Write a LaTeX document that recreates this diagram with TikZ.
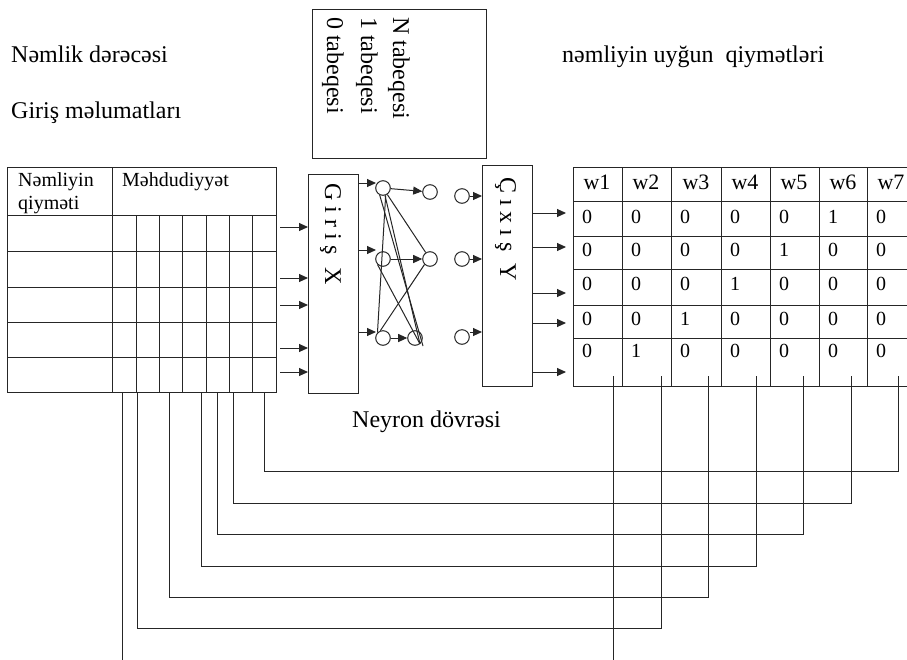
\documentclass[tikz,border=0pt]{standalone}
\usepackage{fontspec}
\setmainfont{Liberation Serif}
\usetikzlibrary{arrows.meta}
\begin{document}
\begin{tikzpicture}[x=1pt,y=-1pt,
  ln/.style={line width=1pt, draw=black!85},
  arr/.style={ln,-{Triangle[length=9pt,width=8pt]}},
  box/.style={ln, rectangle, inner sep=0},
  neuron/.style={ln, circle, minimum size=14.6pt, inner sep=0},
  big/.style={font=\fontsize{24}{28}\selectfont, inner sep=0},
  mid/.style={font=\fontsize{20}{23}\selectfont, inner sep=0},
  hd/.style={font=\fontsize{22}{26}\selectfont, inner sep=0},
  ]
\useasboundingbox (0,0) rectangle (907,659);
\fill[white] (0,0) rectangle (907,659);

% headings
\node[big, anchor=base west] (t1) at (11,62) {Nəmlik dərəcəsi};
\node[big, anchor=base west] (t2) at (11,118) {Giriş məlumatları};
\node[big, anchor=base west] (t3) at (562,62) {nəmliyin uyğun\ \ qiymətləri};
\node[big, anchor=base west] (t4) at (352,427) {Neyron dövrəsi};

% layer box
\node[box, draw, minimum width=174pt, minimum height=149pt, anchor=north west] (layers) at (312,9) {};
\node[big, rotate=-90, anchor=base west] (l0) at (327,17) {0 tabeqesi};
\node[big, rotate=-90, anchor=base west] (l1) at (361,17) {1 tabeqesi};
\node[big, rotate=-90, anchor=base west] (lN) at (393,17) {N tabeqesi};

% input table
\draw[ln] (7,167) rectangle (276,392);
\draw[ln] (7,215) -- (276,215);
\draw[ln] (112,167) -- (112,392);
\foreach \y in {251,287,322,357} \draw[ln] (7,\y) -- (276,\y);
\foreach \x in {136,159,182,206,229,252} \draw[ln] (\x,215) -- (\x,392);
\node[mid, anchor=base west] (h1) at (18,186) {Nəmliyin};
\node[mid, anchor=base west] (h2) at (18,209) {qiyməti};
\node[mid, anchor=base west] (h3) at (122,186) {Məhdudiyyət};

% input and output blocks
\node[box, draw, minimum width=50pt, minimum height=219pt, anchor=north west] (gx) at (308,174) {};
\node[big, rotate=-90, anchor=base west] at (325,183) {G i r i ş\ \ X};
\node[box, draw, minimum width=50pt, minimum height=221pt, anchor=north west] (cy) at (482,165) {};
\node[big, rotate=-90, anchor=base west] at (500,177) {Ç ı x ı ş\ \ Y};

% table to input block
\foreach \y in {227,278,305,348,372} \draw[arr] (280,\y) -- (gx.west |- 0,\y);

% neurons
\node[neuron, draw] (n11) at (383,188) {};
\node[neuron, draw] (n12) at (383,259) {};
\node[neuron, draw] (n13) at (383,338) {};
\node[neuron, draw] (n21) at (430,192) {};
\node[neuron, draw] (n22) at (430,259) {};
\node[neuron, draw] (n23) at (415,338) {};
\node[neuron, draw] (o1) at (462,196) {};
\node[neuron, draw] (o2) at (462,259) {};
\node[neuron, draw] (o3) at (462,337) {};
\coordinate (e1) at (423,346);
\coordinate (e2) at (420,344);

\draw[arr] (gx.east |- 0,183) -- (376,183);
\draw[arr] (gx.east |- 0,250) -- (376,250);
\draw[arr] (gx.east |- 0,332) -- (376,332);
\draw[arr] (n11) -- (n21);
\draw[arr] (n12) -- (n22);
\draw[arr] (n13) -- (n23);
\draw[ln] (n11) -- (n22);
\draw[ln] (n11.-115) -- (e1);
\draw[ln] (n11.-75) -- (e2);
\draw[ln] (n13.135) -- (n11.-70);
\draw[ln] (n13.110) -- (n22.225);
\draw[ln] (n12.225) -- (e2);
\draw[arr] (o1.east) -- (cy.west |- o1.east);
\draw[arr] (o2.east) -- (cy.west |- o2.east);
\draw[arr] (o3.east |- 0,332) -- (cy.west |- 0,332);
\foreach \y in {213,247,293,323,372} \draw[arr] (cy.east |- 0,\y) -- (566,\y);

% output table
\draw[ln] (573,167) -- (916,167);
\foreach \y in {201,236,269,305,338,386} \draw[ln] (573,\y) -- (916,\y);
\foreach \x in {573,622,671,721,770,819,867,916} \draw[ln] (\x,167) -- (\x,386);
\foreach \i/\x in {1/597,2/646,3/696,4/745,5/794,6/843,7/891}
  \node[hd, anchor=base] (w\i) at (\x,189) {w\i};
\foreach \y [count=\r] in {223,256,290,325,357}
  \foreach \x [count=\c] in {582,631,680,730,779,828,876} {
    \pgfmathtruncatemacro{\v}{(\r+\c==7)?1:0}
    \node[mid, anchor=base west] at (\x,\y) {\v};
  }

% wiring between the two tables
\foreach \a/\b/\y in {264/898/471, 233/851/503, 217/803/534, 201/756/566, 169/708/597, 137/661/628, 122/613/670}
  \draw[ln] (\a,392) -- (\a,\y) -- (\b,\y) -- (\b,376);
\end{tikzpicture}
\end{document}
